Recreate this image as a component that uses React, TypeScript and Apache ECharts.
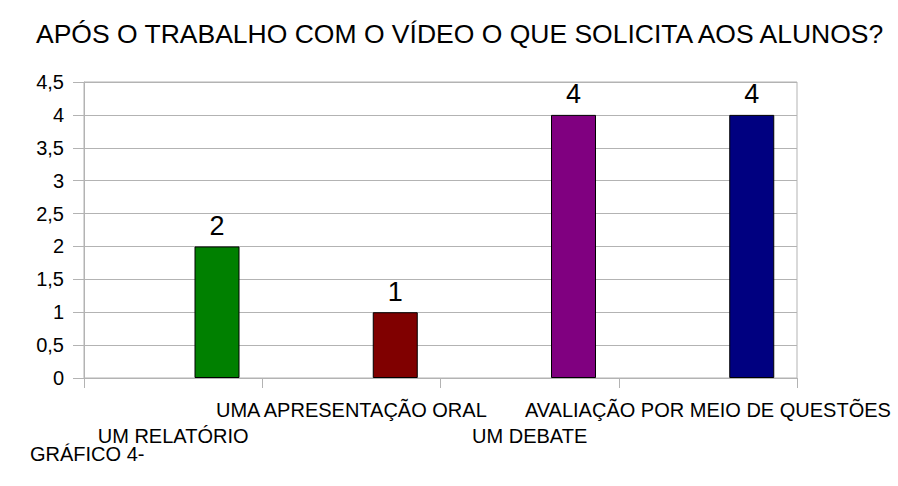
import React, { useEffect, useRef } from "react";
import * as echarts from "echarts";

const categories = [
  "UM RELATÓRIO",
  "UMA APRESENTAÇÃO ORAL",
  "UM DEBATE",
  "AVALIAÇÃO POR MEIO DE QUESTÕES",
];
const values = [2, 1, 4, 4];
const barColors = ["#008000", "#800000", "#800080", "#000080"];
const titleText = "APÓS O TRABALHO COM O VÍDEO O QUE SOLICITA AOS ALUNOS?";
const captionText = "GRÁFICO 4-";

const FONT = "'Liberation Sans', Arial, sans-serif";

export default function App() {
  const ref = useRef<HTMLDivElement>(null);
  useEffect(() => {
    if (!ref.current) return;
    const chart = echarts.init(ref.current, null, { renderer: "svg" });
    chart.setOption({
      animation: false,
      backgroundColor: "#ffffff",
      textStyle: { fontFamily: FONT },
      title: {
        text: titleText,
        left: 31,
        top: 15,
        textStyle: { fontSize: 26.5, fontWeight: "normal", color: "#000", fontFamily: FONT },
      },
      graphic: [
        {
          type: "text",
          left: 30,
          top: 444,
          style: { text: captionText, fontSize: 20, fill: "#000", fontFamily: FONT },
        },
      ],
      grid: {
        left: 84,
        right: 101,
        top: 82,
        bottom: 108,
        show: true,
        borderColor: "#b3b3b3",
        borderWidth: 1,
        backgroundColor: "transparent",
      },
      xAxis: {
        type: "category",
        data: categories,
        axisLine: { lineStyle: { color: "#b3b3b3", width: 1 } },
        axisTick: { show: true, length: 10, lineStyle: { color: "#b3b3b3" } },
        axisLabel: {
          interval: 0,
          fontSize: 20,
          color: "#000",
          margin: 19,
          lineHeight: 26,
          fontFamily: FONT,
          formatter: (v: string, i: number) => (i % 2 === 0 ? "\n" + v : v),
        },
      },
      yAxis: {
        type: "value",
        min: 0,
        max: 4.5,
        interval: 0.5,
        axisLine: { show: true, lineStyle: { color: "#b3b3b3", width: 1 } },
        axisTick: { show: true, length: 11, lineStyle: { color: "#b3b3b3" } },
        splitLine: { show: true, lineStyle: { color: "#b3b3b3", width: 1 } },
        axisLabel: {
          fontSize: 20,
          color: "#000",
          margin: 20,
          fontFamily: FONT,
          formatter: (v: number) => String(v).replace(".", ","),
        },
      },
      series: [
        {
          type: "bar",
          data: values.map(() => "-"),
          barWidth: 45,
          barGap: "95%",
        },
        {
          type: "bar",
          barWidth: 45,
          barGap: "95%",
          data: values.map((v, i) => ({
            value: v,
            itemStyle: { color: barColors[i], borderColor: "#000", borderWidth: 1 },
          })),
          label: {
            show: true,
            position: "top",
            distance: 7,
            fontSize: 27,
            color: "#000",
            fontFamily: FONT,
          },
        },
      ],
    });
    return () => chart.dispose();
  }, []);
  return (
    <div
      ref={ref}
      style={{ position: "fixed", left: 0, top: 0, width: 898, height: 486 }}
    />
  );
}
